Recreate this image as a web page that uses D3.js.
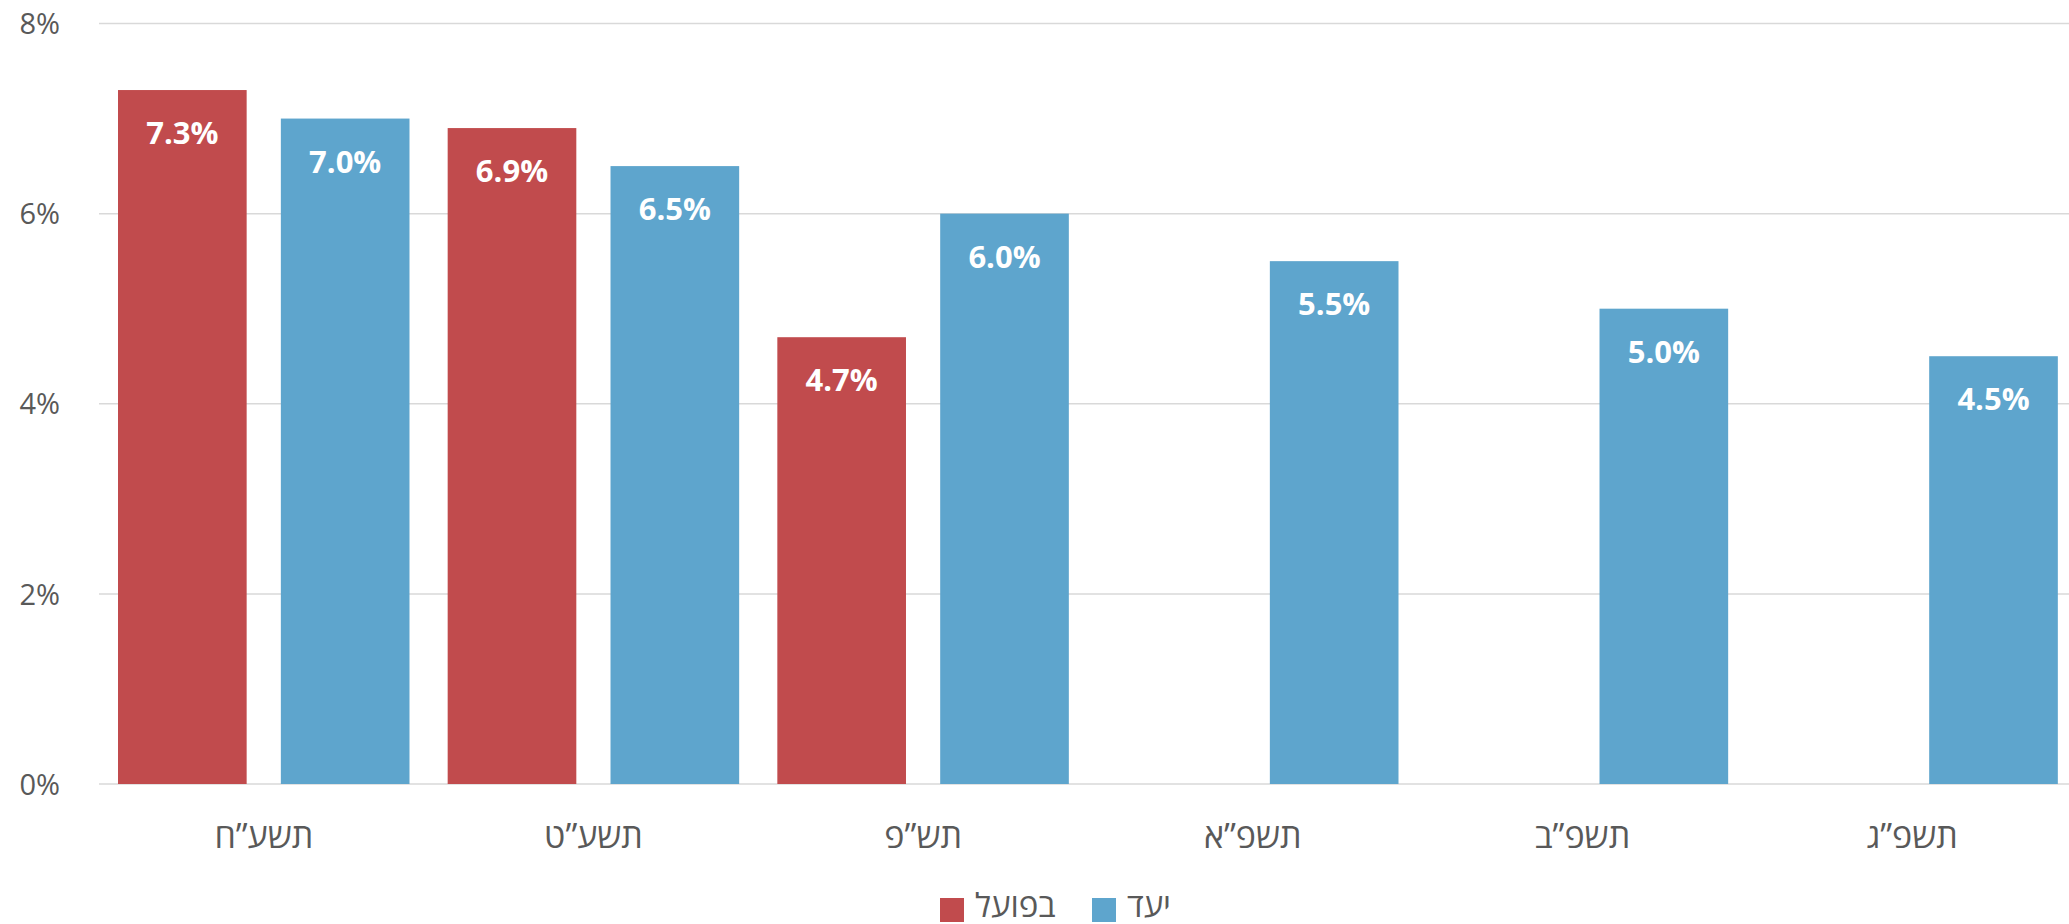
<!DOCTYPE html>
<html lang="he">
<head>
<meta charset="utf-8">
<script src="https://cdn.jsdelivr.net/npm/d3@7"></script>
<style>
  html, body { margin: 0; padding: 0; background: #fff; }
  svg { display: block; font-family: "Open Sans", "Noto Sans", "DejaVu Sans", sans-serif; }
</style>
</head>
<body>
<svg id="chart" width="2069" height="924"></svg>
<script>
const categories = ["תשע”ח", "תשע”ט", "תש”פ", "תשפ”א", "תשפ”ב", "תשפ”ג"];
const seriesNames = ["בפועל", "יעד"];
const actualValues = [7.3, 6.9, 4.7, null, null, null];
const targetValues = [7.0, 6.5, 6.0, 5.5, 5.0, 4.5];
const yTicks = [0, 2, 4, 6, 8];
const colors = ["#c14b4d", "#5ea5cd"];

const svg = d3.select("#chart");
const plotLeft = 99, plotRight = 2069;
const y = d3.scaleLinear().domain([0, 8]).range([784, 23.5]);
const x0 = d3.scaleBand().domain(categories).range([99, 2077]).paddingInner(0).paddingOuter(0);
const x1 = d3.scaleBand().domain(seriesNames).range([19, 310.5]).paddingInner(0.21).paddingOuter(0);

// gridlines
svg.append("g").selectAll("line").data(yTicks).join("line")
  .attr("x1", plotLeft).attr("x2", plotRight)
  .attr("y1", d => y(d)).attr("y2", d => y(d))
  .attr("stroke", "#d9d9d9").attr("stroke-width", 1.5);

// y axis labels
const yAxis = d3.axisLeft(y).tickValues(yTicks).tickFormat(d => d + "%").tickSize(0).tickPadding(0);
const ya = svg.append("g").attr("transform", "translate(60,0)").call(yAxis);
ya.select(".domain").remove();
ya.selectAll("text").attr("font-size", 29).attr("fill", "#595959")
  .attr("font-family", "\"Open Sans\", \"Noto Sans\", sans-serif").attr("dy", "0.35em");

// bars
const data = categories.map((c, i) => ({ cat: c, vals: [actualValues[i], targetValues[i]] }));
const groups = svg.append("g").selectAll("g").data(data).join("g")
  .attr("transform", d => `translate(${x0(d.cat)},0)`);
const items = groups.selectAll("g").data(d => d.vals.map((v, j) => ({ name: seriesNames[j], v, j })).filter(e => e.v != null)).join("g");
items.append("rect")
  .attr("x", d => x1(d.name)).attr("width", x1.bandwidth())
  .attr("y", d => y(d.v)).attr("height", d => y(0) - y(d.v))
  .attr("fill", d => colors[d.j]);
items.append("text")
  .attr("x", d => x1(d.name) + x1.bandwidth() / 2)
  .attr("y", d => y(d.v) + 54)
  .attr("text-anchor", "middle").attr("fill", "#fff").attr("font-weight", "bold")
  .attr("font-size", 31)
  .text(d => d.v.toFixed(1) + "%");

// x axis labels
const xAxis = d3.axisBottom(x0).tickSize(0).tickPadding(0);
const xa = svg.append("g").attr("transform", "translate(0,848)").call(xAxis);
xa.select(".domain").remove();
xa.selectAll("text").attr("font-size", 34).attr("fill", "#595959").attr("dy", 0)
  .attr("font-family", "\"Open Sans\", \"Noto Sans\", \"DejaVu Sans\", sans-serif")
  .attr("direction", "rtl").attr("text-anchor", "middle");

// legend
const legendX = [940, 1092];
const lg = svg.append("g").selectAll("g").data(seriesNames).join("g")
  .attr("transform", (d, i) => `translate(${legendX[i]},898)`);
lg.append("rect").attr("width", 24).attr("height", 24).attr("fill", (d, i) => colors[i]);
lg.append("text").attr("x", 35).attr("y", 19).attr("font-size", 33).attr("fill", "#595959")
  .attr("direction", "ltr").attr("text-anchor", "start").text(d => d);
</script>
</body>
</html>
